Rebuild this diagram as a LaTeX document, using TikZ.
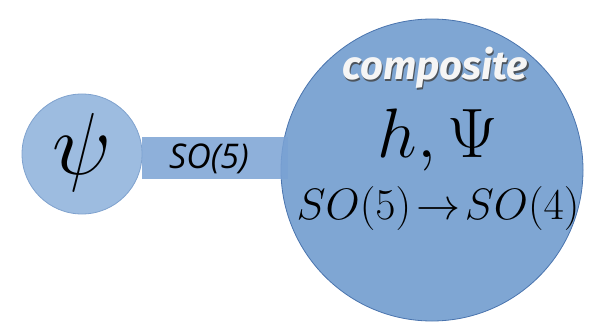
\RequirePackage{fix-cm}
\documentclass[tikz,border=0pt]{standalone}
\usepackage{fontspec}
\newfontfamily\handfont{Fira Sans}
\newfontfamily\thinhand{Open Sans}
\begin{document}
\begin{tikzpicture}[x=1pt,y=-1pt,
  smallball/.style={circle,fill=smallfill,draw=smalledge,line width=0.8pt,minimum size=120pt,inner sep=0pt},
  bigball/.style={circle,fill=bigfill,draw=bigedge,line width=0.8pt,minimum size=302pt,inner sep=0pt},
  bar/.style={fill=barfill,fill opacity=0.85,draw=none}]
\definecolor{smallfill}{HTML}{9DBCE0}
\definecolor{smalledge}{HTML}{7FA2CE}
\definecolor{bigfill}{HTML}{7FA6D3}
\definecolor{bigedge}{HTML}{4A74AE}
\definecolor{barfill}{HTML}{7AA2D4}
\useasboundingbox (0,0) rectangle (593,323);
\node[bigball] (big) at (432,170) {};
\node[smallball] (small) at (82,154) {};
\fill[bar] (small.east |- 0,137) rectangle (288,179);
\node (so5) at (209,159) {\thinhand\itshape\fontsize{34}{40}\selectfont SO(5)};
\node (psi) at (82,152) {\fontsize{88}{96}\selectfont$\psi$};
\node[text=black!75,opacity=0.8] at (436.5,69.5) {\handfont\itshape\bfseries\fontsize{40}{44}\selectfont composite};
\node[text=white!92!gray] (comp) at (435,68) {\handfont\itshape\bfseries\fontsize{40}{44}\selectfont composite};
\node (hpsi) at (438,140) {\fontsize{70}{76}\selectfont$h,\Psi$};
\node (brk) at (438,209) {\fontsize{44}{50}\selectfont$SO(5)\!\to\! SO(4)$};
\end{tikzpicture}
\end{document}
